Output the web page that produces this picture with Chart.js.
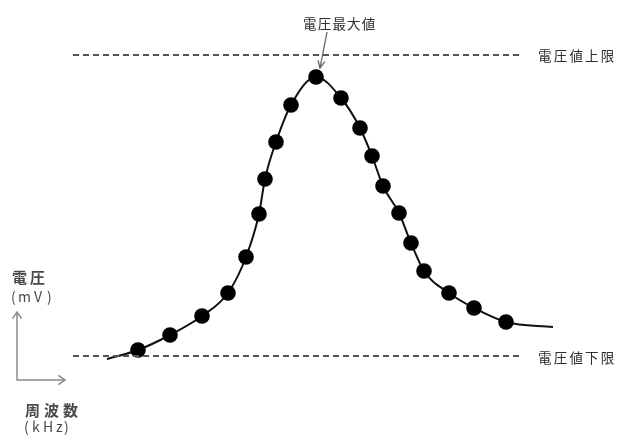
<!DOCTYPE html>
<html>
<head>
<meta charset="utf-8">
<script src="https://cdn.jsdelivr.net/npm/chart.js@4"></script>
<style>
html,body{margin:0;padding:0;background:#fff;}
#wrap{width:621px;height:436px;position:relative;}
</style>
</head>
<body>
<div id="wrap"><canvas id="c" width="621" height="436"></canvas></div>
<script>
// Frequency (arbitrary units) and voltage (arbitrary units)
const measuredFreq = [138,170,202,228,246,259,265,276,291,316,341,360,372,383,399,411,424,449,474,506];
const measuredVolt = [86,101,120,143,179,222,257,294,331,359,338,308,280,250,223,193,165,143,128,114];
// Curve tails beyond the measured points
const curveStart = [107, 77];
const curveEnd = [553, 109];
// Limits
const upperLimit = 381;
const lowerLimit = 80;
const limitRange = [73, 522];
const labels = {
  peak: '電圧最大値',
  upper: '電圧値上限',
  lower: '電圧値下限',
  yName: '電圧', yUnit: '(mV)',
  xName: '周波数', xUnit: '(kHz)'
};

const curveData = [{x: curveStart[0], y: curveStart[1]}]
  .concat(measuredFreq.map((f, i) => ({x: f, y: measuredVolt[i]})))
  .concat([{x: curveEnd[0], y: curveEnd[1]}]);
const radii = curveData.map((d, i) => (i === 0 || i === curveData.length - 1) ? 0 : 7.8);

function spaced(ctx, text, x, y, pitch) {
  for (let i = 0; i < text.length; i++) ctx.fillText(text[i], x + i * pitch, y);
}
function placed(ctx, text, xs, y) {
  for (let i = 0; i < text.length; i++) ctx.fillText(text[i], xs[i], y);
}
function chevron(ctx, tx, ty, ang, len, spread) {
  ctx.beginPath();
  ctx.moveTo(tx + len * Math.cos(ang + spread), ty + len * Math.sin(ang + spread));
  ctx.lineTo(tx, ty);
  ctx.lineTo(tx + len * Math.cos(ang - spread), ty + len * Math.sin(ang - spread));
  ctx.stroke();
}

const annot = {
  id: 'annot',
  afterDraw(chart) {
    const ctx = chart.ctx, xs = chart.scales.x, ys = chart.scales.y;
    ctx.save();
    ctx.textBaseline = 'middle';
    ctx.textAlign = 'left';
    // limit labels
    ctx.fillStyle = '#2e2e2e';
    ctx.font = '13.5px "Noto Sans CJK JP"';
    const lx = xs.getPixelForValue(limitRange[1]) + 16;
    spaced(ctx, labels.upper, lx, ys.getPixelForValue(upperLimit) + 1, 15.7);
    spaced(ctx, labels.lower, lx, ys.getPixelForValue(lowerLimit) + 2, 15.7);
    // peak label + arrow
    const pk = measuredVolt.indexOf(Math.max(...measuredVolt));
    const px = xs.getPixelForValue(measuredFreq[pk]);
    const py = ys.getPixelForValue(measuredVolt[pk]);
    spaced(ctx, labels.peak, px - 13, py - 53, 14.7);
    ctx.strokeStyle = '#666';
    ctx.lineWidth = 1.3;
    ctx.beginPath();
    ctx.moveTo(px + 11, py - 45);
    ctx.lineTo(px + 4, py - 9);
    ctx.stroke();
    const a = Math.atan2(-36, 7);
    chevron(ctx, px + 4, py - 9, a, 8, 0.45);
    // axis hint at left
    ctx.fillStyle = '#4a4a4a';
    ctx.font = 'bold 15px "Noto Sans CJK JP"';
    spaced(ctx, labels.yName, 12, 277, 18);
    spaced(ctx, labels.xName, 25, 410, 19);
    ctx.font = '14px "Noto Sans CJK JP"';
    placed(ctx, labels.yUnit, [11, 18, 34, 47], 297);
    placed(ctx, labels.xUnit, [24, 32, 43, 56, 64], 427);
    ctx.strokeStyle = '#8a8a8a';
    ctx.lineWidth = 1.5;
    ctx.beginPath();
    ctx.moveTo(17, 312);
    ctx.lineTo(17, 380);
    ctx.lineTo(65, 380);
    ctx.stroke();
    chevron(ctx, 17, 312, Math.PI / 2, 8, 0.6);
    chevron(ctx, 65, 380, Math.PI, 8, 0.6);
    ctx.restore();
  }
};

new Chart(document.getElementById('c'), {
  type: 'line',
  data: {
    datasets: [
      {
        data: [{x: limitRange[0], y: upperLimit}, {x: limitRange[1], y: upperLimit}],
        borderColor: '#555', borderWidth: 2, borderDash: [6, 4], pointRadius: 0
      },
      {
        data: [{x: limitRange[0], y: lowerLimit}, {x: limitRange[1], y: lowerLimit}],
        borderColor: '#555', borderWidth: 2, borderDash: [6, 4], pointRadius: 0
      },
      {
        data: curveData,
        borderColor: '#111', borderWidth: 2,
        backgroundColor: '#000', pointBackgroundColor: '#000', pointBorderColor: '#000',
        pointRadius: radii, pointBorderWidth: 0,
        cubicInterpolationMode: 'monotone'
      }
    ]
  },
  options: {
    responsive: false,
    animation: false,
    devicePixelRatio: 1,
    layout: {padding: 0},
    plugins: {legend: {display: false}, tooltip: {enabled: false}},
    events: [],
    scales: {
      x: {type: 'linear', min: 0, max: 621, display: false},
      y: {type: 'linear', min: 0, max: 436, display: false}
    }
  },
  plugins: [annot]
});
</script>
</body>
</html>
